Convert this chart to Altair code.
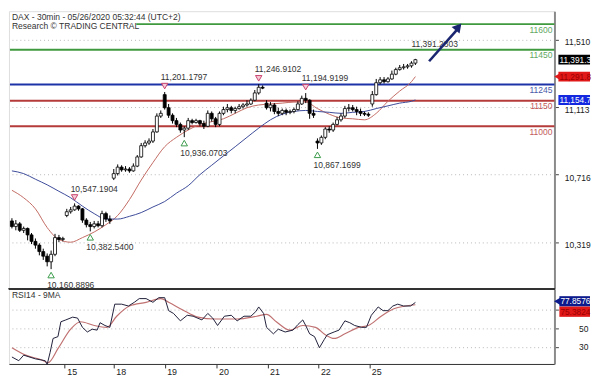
import altair as alt
import pandas as pd

FONT = "Liberation Sans"
W, H1, H2 = 552, 281, 76
X_DOM = [-0.75, 138.5]
P_DOM = [10045, 11676]
R_DOM = [11.5, 92.5]

# ---- 30-min candles (bar index 0..103) ----
opens = [10444, 10411, 10427, 10389, 10400, 10362, 10324, 10302, 10264, 10237, 10204, 10248, 10346, 10335,
         10476, 10498, 10509, 10531, 10515, 10449, 10422, 10411, 10427, 10416, 10487, 10455,
         10695, 10722, 10760, 10744, 10749, 10738, 10766, 10820, 10886, 10902, 10913, 10967, 11060,
         11186, 11109, 11065, 11033, 11011, 10978, 10989, 11033, 11022, 11033, 11016, 11000, 11076, 11044,
         11011, 11076, 11098, 11109, 11093, 11104, 11115, 11125, 11131, 11153, 11196, 11229,
         11136, 11109, 11125, 11087, 11076, 11093, 11082, 11087, 11098, 11131, 11164, 11153, 11076,
         10913, 10902, 10935, 10984, 10978, 11011, 11038, 11060, 11104, 11109, 11098, 11087, 11076, 11071,
         11131, 11186, 11256, 11273, 11262, 11278, 11306, 11333, 11344, 11349, 11355, 11371]
closes = [10411, 10427, 10389, 10400, 10362, 10324, 10302, 10264, 10237, 10204, 10248, 10346, 10335, 10341,
          10498, 10509, 10531, 10515, 10449, 10422, 10411, 10427, 10416, 10487, 10455, 10444,
          10722, 10760, 10744, 10749, 10738, 10766, 10820, 10886, 10902, 10913, 10967, 11060, 11076,
          11109, 11065, 11033, 11011, 10978, 10989, 11033, 11022, 11033, 11016, 11000, 11076, 11044, 11011,
          11076, 11098, 11109, 11093, 11104, 11115, 11125, 11131, 11153, 11196, 11229, 11224,
          11109, 11125, 11087, 11076, 11093, 11082, 11087, 11098, 11131, 11164, 11153, 11076, 11065,
          10902, 10935, 10984, 10978, 11011, 11038, 11060, 11104, 11109, 11098, 11087, 11076, 11071, 11065,
          11186, 11256, 11273, 11262, 11278, 11306, 11333, 11344, 11349, 11355, 11371, 11391.28]
highs = [10460, 10449, 10438, 10411, 10405, 10373, 10341, 10313, 10281, 10253, 10270, 10368, 10362, 10351,
         10515, 10526, 10547.19, 10536, 10520, 10460, 10438, 10444, 10444, 10504, 10498, 10476,
         10749, 10776, 10771, 10766, 10760, 10782, 10831, 10902, 10918, 10929, 10984, 11076, 11093,
         11201.18, 11131, 11076, 11049, 11022, 11000, 11049, 11044, 11044, 11038, 11033, 11093, 11087, 11055,
         11087, 11115, 11131, 11120, 11115, 11131, 11136, 11153, 11164, 11213, 11246.91, 11240,
         11153, 11142, 11136, 11109, 11104, 11104, 11098, 11109, 11147, 11180, 11194.92, 11158, 11098,
         10929, 10946, 10995, 11000, 11022, 11055, 11076, 11120, 11131, 11125, 11115, 11104, 11087, 11082,
         11207, 11278, 11289, 11289, 11289, 11327, 11344, 11360, 11366, 11366, 11382, 11396]
lows = [10400, 10389, 10379, 10373, 10330, 10308, 10281, 10242, 10215, 10177, 10160.89, 10237, 10319, 10324,
        10466, 10487, 10504, 10504, 10433, 10406, 10382.54, 10400, 10406, 10406, 10438, 10427,
        10684, 10711, 10733, 10733, 10727, 10733, 10760, 10815, 10875, 10891, 10902, 10962, 11049,
        11098, 11049, 11016, 10995, 10962, 10936.07, 10978, 11011, 11016, 11000, 10984, 10995, 11027, 10995,
        11000, 11065, 11082, 11076, 11076, 11098, 11104, 11115, 11125, 11147, 11186, 11218,
        11098, 11087, 11071, 11060, 11065, 11065, 11071, 11076, 11093, 11125, 11136, 11044, 11049,
        10867.17, 10891, 10924, 10962, 10967, 11005, 11027, 11049, 11087, 11087, 11065, 11060, 11060, 11055,
        11115, 11180, 11246, 11251, 11256, 11273, 11300, 11327, 11333, 11338, 11344, 11360]

# ---- moving averages on price (read every 3rd bar) ----
ma_bars = [0, 3, 6, 9, 12, 15, 18, 21, 24, 27, 30, 33, 36, 39, 42, 45, 48, 51, 54, 57, 60, 63, 66, 69,
           72, 75, 78, 81, 84, 87, 90, 93, 96, 99, 102, 103]
ma_fast = [10624, 10580, 10515, 10405, 10335, 10319, 10346, 10379, 10422, 10476, 10569, 10684, 10787, 10880,
           10935, 10978, 11011, 11027, 11044, 11076, 11109, 11125, 11131, 11136, 11142, 11142, 11104, 11071,
           11049, 11044, 11038, 11076, 11147, 11207, 11262, 11291.8]
ma_slow = [10738, 10722, 10689, 10656, 10618, 10580, 10531, 10487, 10455, 10455, 10471, 10493, 10526, 10558,
           10607, 10651, 10716, 10771, 10826, 10880, 10935, 10989, 11038, 11071, 11087, 11093, 11087, 11082,
           11076, 11082, 11087, 11104, 11120, 11136, 11147, 11154.7]

# ---- support / resistance levels ----
levels = [11600, 11450, 11245, 11150, 11000]
level_colors = ["#3f9a3f", "#3f9a3f", "#1e32a8", "#b53a3a", "#b53a3a"]
level_text_colors = ["#62a862", "#62a862", "#4a5aa8", "#c25a5a", "#c25a5a"]
level_start = [31.75, -0.5, -0.5, -0.5, -0.5]

# ---- swing points ----
high_bars = [16, 39, 63, 75]
high_prices = [10547.1904, 11201.1797, 11246.9102, 11194.9199]
low_bars = [10, 20, 44, 78]
low_prices = [10160.8896, 10382.5400, 10936.0703, 10867.1699]
last_label = "11,391.2803"

# ---- projection arrow ----
arrow_bars = [106.5, 113.6]
arrow_prices = [11382, 11566]
arrow_head_bar = 114.0
arrow_head_price = 11584

# ---- axis ticks ----
price_ticks = [10319, 10716, 11113, 11510]
day_ticks = [13.5, 26, 39, 52.25, 65.25, 78.25, 91.25]
day_labels = ["15", "18", "19", "20", "21", "22", "25"]

# ---- current values ----
box_values = [11391.2803, 11291.8, 11154.7]
box_labels = ["11,391.3", "11,291.8", "11,154.7"]
box_bg = ["#000000", "#e01818", "#1428e0"]
box_fg = ["#ffffff", "#9a0000", "#ffffff"]

# ---- RSI(14) and its 9-period MA ----
rsi_bars = [0, 1.75, 3, 6, 8.5, 9, 9.75, 10.5, 11.75, 12.5, 13.75, 15.5, 16.75, 18, 19.25, 20.5, 21.75, 22.5,
            23.75, 25, 26.25, 28, 29.75, 31.25, 32.5, 34.25, 36, 37.5, 39, 40, 41.25, 43, 44.75, 46.25, 48.5,
            50, 51.25, 52.5, 54.25, 56, 57.5, 59.25, 61, 62.25, 63, 64.25, 65, 66.75, 68, 69.75, 71.75, 73,
            74.25, 75, 76, 77.25, 78.5, 79.75, 80.5, 82.25, 83.5, 85, 86.25, 87.5, 89.25, 90.5, 91.75, 93.5,
            94.75, 96, 97.25, 98.5, 100, 101.75, 103]
rsi_vals = [19, 15, 21, 17, 15, 11, 24, 39, 41, 57, 59, 62, 61, 51, 46, 49, 48, 56, 53, 51, 76, 76, 74, 78, 82,
            82, 78, 83, 83, 69, 66, 58, 64, 63, 59, 66, 61, 53, 63, 64, 58, 63, 63, 68, 73, 66, 51, 44, 49, 46,
            48, 54, 59, 53, 44, 41, 29, 38, 43, 46, 48, 58, 56, 53, 51, 51, 64, 73, 69, 69, 74, 76, 74, 74, 77.8576]
rsi_ma_bars = [0, 3.5, 7.5, 9.25, 11.75, 15, 17.5, 21, 24.25, 26.75, 30, 34.25, 38, 40, 43.5, 47.5, 51.75, 57.5,
               62.5, 65, 67.5, 71, 74.25, 77.5, 80, 82.25, 85, 88.5, 91, 94.25, 97.5, 103]
rsi_ma_vals = [29, 21, 16, 13, 28, 49, 57, 53, 51, 63, 74, 78, 82, 78, 70, 62, 60, 60, 63, 65, 57, 48, 53, 51,
               43, 39, 44, 51, 53, 63, 71, 75.3824]
rsi_ticks = [30, 50, 70]
rsi_box_labels = ["77.8576", "75.3824"]
rsi_box_bg = ["#0c1a8c", "#e01818"]
rsi_box_fg = ["#ffffff", "#9a0000"]

# ================= build =================
xs = alt.Scale(domain=X_DOM, nice=False, zero=False)
ps = alt.Scale(domain=P_DOM, nice=False, zero=False)
rs = alt.Scale(domain=R_DOM, nice=False, zero=False)
ppx = (P_DOM[1] - P_DOM[0]) / H1
rpx = (R_DOM[1] - R_DOM[0]) / H2

price_axis = alt.Axis(orient="right", values=price_ticks, format=",d", grid=True, gridDash=[1, 3],
                      gridColor="#b8b8b8", domainColor="#8a8a8a", domainWidth=2, tickColor="#444",
                      tickSize=4, labelPadding=6, labelOffset=2.5, labelFontSize=8.6, labelColor="#222",
                      labelFont=FONT, title=None)


def X(f):
    return alt.X(f, scale=xs, axis=None)


def Y(f):
    return alt.Y(f, scale=ps, axis=price_axis)


cdf = pd.DataFrame({"k": list(range(len(closes))), "o": opens, "h": highs, "l": lows, "c": closes})
cdf["x1"] = cdf.k - 0.38
cdf["x2"] = cdf.k + 0.38

wicks = alt.Chart(cdf).mark_rule(color="#000", strokeWidth=1).encode(x=X("k:Q"), y=Y("l:Q"), y2="h:Q")
bodies = alt.Chart(cdf).mark_rect(stroke="#000", strokeWidth=0.8).encode(
    x=X("x1:Q"), x2="x2:Q", y=Y("o:Q"), y2="c:Q",
    fill=alt.condition("datum.c >= datum.o", alt.value("#ffffff"), alt.value("#000000")))

lvl = pd.DataFrame({"p": levels, "xs": level_start, "xe": [X_DOM[1]] * len(levels),
                    "col": level_colors, "tcol": level_text_colors, "lab": [str(v) for v in levels]})
lvl_rules = alt.Chart(lvl).mark_rule(strokeWidth=2).encode(
    x=X("xs:Q"), x2="xe:Q", y=Y("p:Q"), color=alt.Color("col:N", scale=None))
lvl_text = alt.Chart(lvl).mark_text(align="right", baseline="middle", dy=5.5, fontSize=8.6, font=FONT).encode(
    x=alt.value(W - 2), y=Y("p:Q"), text="lab:N", color=alt.Color("tcol:N", scale=None))

ma = pd.DataFrame({"k": ma_bars * 2, "v": ma_fast + ma_slow,
                   "s": ["fast"] * len(ma_bars) + ["slow"] * len(ma_bars)})
ma_lines = alt.Chart(ma).mark_line(strokeWidth=1, interpolate="monotone").encode(
    x=X("k:Q"), y=Y("v:Q"), detail="s:N",
    color=alt.Color("s:N", scale=alt.Scale(domain=["fast", "slow"], range=["#c26a62", "#3c4a98"]), legend=None))

hdf = pd.DataFrame({"k": high_bars, "p": high_prices, "lab": [f"{v:,.4f}" for v in high_prices]})
ldf = pd.DataFrame({"k": low_bars, "p": low_prices, "lab": [f"{v:,.4f}" for v in low_prices]})
tri_h = alt.Chart(hdf).mark_point(shape="triangle-down", filled=True, fill="#f6cbd8", stroke="#c8436e",
                                  strokeWidth=1, size=42, yOffset=-6, opacity=1).encode(x=X("k:Q"), y=Y("p:Q"))
tri_l = alt.Chart(ldf).mark_point(shape="triangle-up", filled=True, fill="#ffffff", stroke="#3a9a4a",
                                  strokeWidth=1, size=42, yOffset=6, opacity=1).encode(x=X("k:Q"), y=Y("p:Q"))
lab_h = alt.Chart(hdf).mark_text(align="left", baseline="middle", dx=-4, dy=-15, fontSize=8.6,
                                 font=FONT, color="#333").encode(x=X("k:Q"), y=Y("p:Q"), text="lab:N")
lab_l = alt.Chart(ldf).mark_text(align="left", baseline="middle", dx=-4, dy=16, fontSize=8.6,
                                 font=FONT, color="#333").encode(x=X("k:Q"), y=Y("p:Q"), text="lab:N")
last_df = pd.DataFrame({"k": [len(closes) - 1], "p": [highs[-1]], "lab": [last_label]})
lab_last = alt.Chart(last_df).mark_text(align="left", baseline="middle", dx=-4, dy=-15, fontSize=8.6,
                                        font=FONT, color="#333").encode(x=X("k:Q"), y=Y("p:Q"), text="lab:N")

arr = pd.DataFrame({"k1": [arrow_bars[0]], "p1": [arrow_prices[0]], "k2": [arrow_bars[1]], "p2": [arrow_prices[1]]})
arrow_line = alt.Chart(arr).mark_rule(strokeWidth=2.6, color="#1b2670").encode(
    x=X("k1:Q"), y=Y("p1:Q"), x2="k2:Q", y2="p2:Q")
head = pd.DataFrame({"k": [arrow_head_bar], "p": [arrow_head_price]})
arrow_head = alt.Chart(head).mark_point(shape="triangle-up", filled=True, size=110, angle=40,
                                        color="#1b2670", opacity=1).encode(x=X("k:Q"), y=Y("p:Q"))

tdf = pd.DataFrame({"t": ["DAX - 30min - 05/26/2020 05:32:44 (UTC+2)"]})
t1 = alt.Chart(tdf).mark_text(align="left", baseline="middle", fontSize=8.6, font=FONT, color="#333").encode(
    x=alt.value(3), y=alt.value(5.5), text="t:N")
tdf2 = pd.DataFrame({"t": ["Research \u00a9 TRADING CENTRAL"]})
t2 = alt.Chart(tdf2).mark_text(align="left", baseline="middle", fontSize=8.6, font=FONT, color="#333").encode(
    x=alt.value(3), y=alt.value(15), text="t:N")

bx = pd.DataFrame({"v": box_values, "lab": box_labels, "bg": box_bg, "fg": box_fg})
bx["top"] = bx.v + 5 * ppx
bx["bot"] = bx.v - 5 * ppx
box_rect = alt.Chart(bx).mark_rect().encode(
    x=alt.value(W + 4), x2=alt.value(W + 36), y=Y("top:Q"), y2="bot:Q", fill=alt.Color("bg:N", scale=None))
box_tip = alt.Chart(bx.iloc[[1]]).mark_point(shape="triangle-left", filled=True, size=55, opacity=1,
                                             color="#e01818").encode(x=alt.value(W + 3), y=Y("v:Q"))
box_text = alt.Chart(bx).mark_text(align="left", baseline="middle", fontSize=8.4, font=FONT).encode(
    x=alt.value(W + 5), y=Y("v:Q"), text="lab:N", color=alt.Color("fg:N", scale=None))

main = alt.layer(lvl_rules, ma_lines, wicks, bodies, lvl_text, tri_h, tri_l, lab_h, lab_l, lab_last,
                 arrow_line, arrow_head, t1, t2, box_rect, box_tip, box_text).properties(width=W, height=H1)

# ---- RSI panel ----
lab_expr = " : ".join(f"datum.value == {t} ? '{l}'" for t, l in zip(day_ticks, day_labels)) + " : ''"
x_axis = alt.Axis(values=day_ticks, labelExpr=lab_expr, tickSize=4, tickColor="#333", labelAlign="left",
                  labelOffset=2, labelPadding=0, labelBaseline="top", domainColor="#333", domainWidth=1,
                  grid=False, title=None, labelFontSize=9, labelFont=FONT, labelColor="#222")
rsi_axis = alt.Axis(orient="right", values=rsi_ticks, labelExpr="datum.value == 70 ? '' : datum.label",
                    grid=True, gridDash=[1, 3], gridColor="#b8b8b8", domainColor="#8a8a8a", domainWidth=2,
                    tickColor="#444", tickSize=4, labelAlign="right", labelPadding=30, labelFontSize=8.6,
                    labelColor="#222", labelFont=FONT, title=None)


def RX(f):
    return alt.X(f, scale=xs, axis=x_axis)


def RY(f):
    return alt.Y(f, scale=rs, axis=rsi_axis)


rdf = pd.DataFrame({"k": rsi_bars, "v": rsi_vals})
rmdf = pd.DataFrame({"k": rsi_ma_bars, "v": rsi_ma_vals})
rsi_line = alt.Chart(rdf).mark_line(strokeWidth=1, color="#1e1e3a").encode(x=RX("k:Q"), y=RY("v:Q"))
rsi_ma_line = alt.Chart(rmdf).mark_line(strokeWidth=1.2, color="#c07070", interpolate="monotone").encode(
    x=RX("k:Q"), y=RY("v:Q"))
top_border = alt.Chart(rdf).mark_rule(color="#333", strokeWidth=1).encode(y=alt.value(0))
rsi_title = alt.Chart(pd.DataFrame({"t": ["RSI14 - 9MA"]})).mark_text(
    align="left", baseline="middle", fontSize=8.6, font=FONT, color="#333").encode(
    x=alt.value(3), y=alt.value(6.5), text="t:N")

pos_navy = rsi_vals[-1] + 1.2
rbx = pd.DataFrame({"v": [pos_navy, pos_navy - 10.5 * rpx], "lab": rsi_box_labels, "bg": rsi_box_bg,
                    "fg": rsi_box_fg})
rbx["top"] = rbx.v + 5.2 * rpx
rbx["bot"] = rbx.v - 5.2 * rpx
rbox_rect = alt.Chart(rbx).mark_rect().encode(
    x=alt.value(W + 5), x2=alt.value(W + 36), y=RY("top:Q"), y2="bot:Q", fill=alt.Color("bg:N", scale=None))
rbox_tip = alt.Chart(rbx.iloc[[0]]).mark_point(shape="triangle-left", filled=True, size=60, opacity=1,
                                               color="#0c1a8c").encode(x=alt.value(W + 3), y=RY("v:Q"))
rbox_text = alt.Chart(rbx).mark_text(align="left", baseline="middle", fontSize=8.4, font=FONT).encode(
    x=alt.value(W + 6), y=RY("v:Q"), text="lab:N", color=alt.Color("fg:N", scale=None))

rsi = alt.layer(rsi_ma_line, rsi_line, top_border, rsi_title, rbox_rect, rbox_tip, rbox_text).properties(
    width=W, height=H2)

chart = alt.vconcat(main, rsi, spacing=0, bounds="flush").properties(padding=0).configure_view(
    stroke=None).configure(font=FONT, background="#ffffff")

chart.save("out.html", embed_options={"renderer": "svg", "actions": False})
